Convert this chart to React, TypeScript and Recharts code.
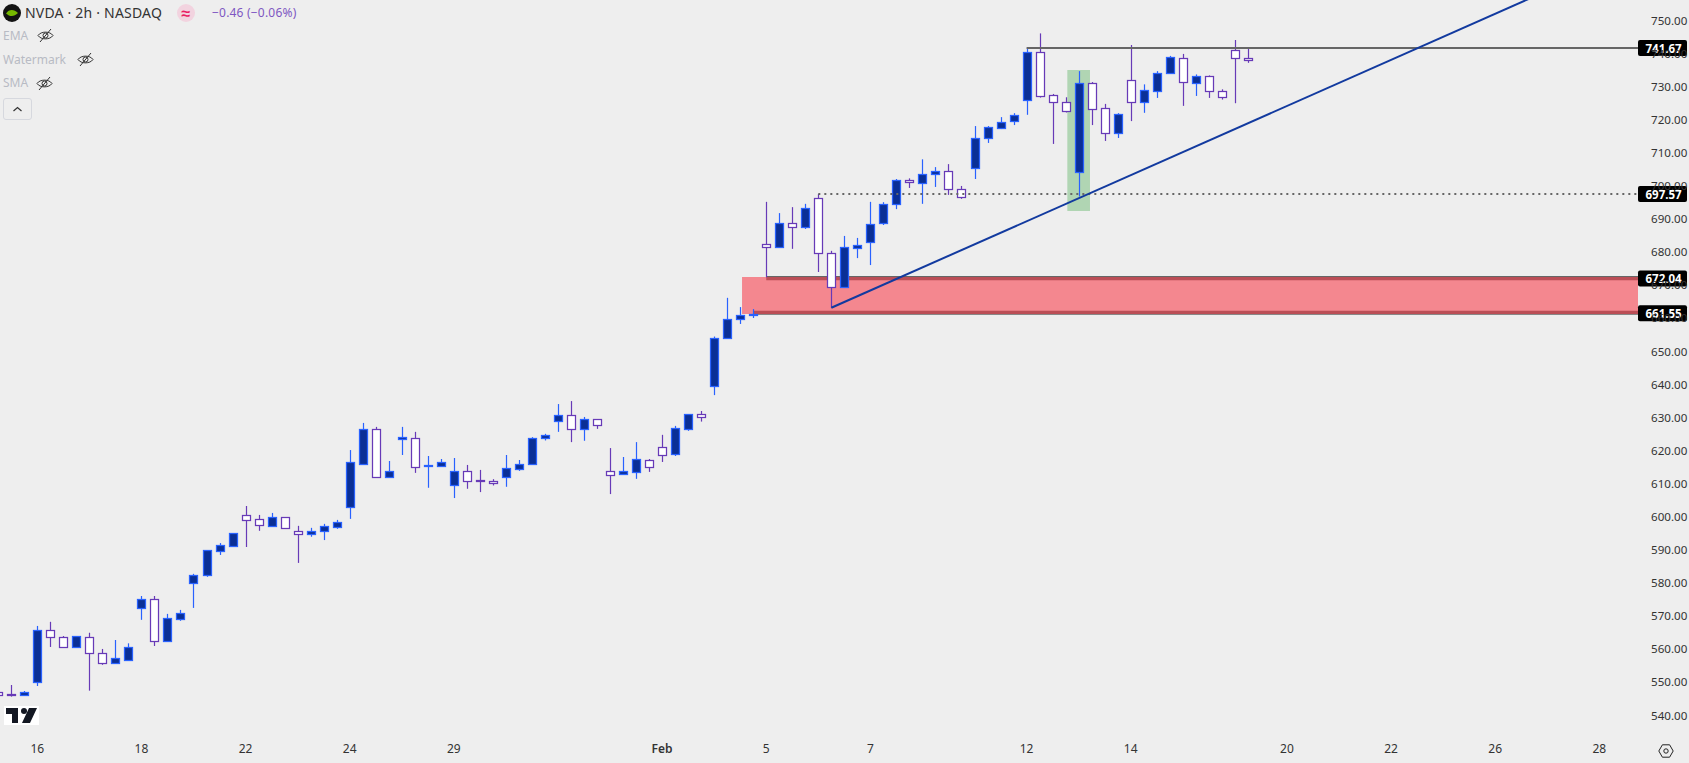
import { Bar, ComposedChart, ReferenceArea, ReferenceLine, XAxis, YAxis } from 'recharts';

const WIDTH = 1689;
const HEIGHT = 763;
const FONT = '"Noto Sans", sans-serif';

const FIRST_INDEX = -3;

// 2h candles, first one is cut off by the left edge
const opens = [
  547.0, 546.5, 546.3, 550.2, 565.8, 563.6, 560.8, 563.6, 558.8, 556.0, 556.9, 572.6, 575.1, 562.6, 569.3, 579.9,
  582.3, 589.8, 591.3, 600.5, 599.3, 597.4, 599.9, 595.7, 594.7, 595.6, 597.1, 603.1, 616.1, 626.5, 612.2, 623.4,
  623.8, 615.5, 615.5, 609.5, 613.8, 611.1, 610.7, 612.2, 614.6, 616.1, 623.7, 629.1, 630.7, 626.7, 629.5, 613.8,
  613.1, 613.7, 617.1, 621.0, 619.1, 626.7, 631.0, 639.7, 654.0, 659.7, 660.9, 682.4, 681.5, 688.7, 687.7, 696.3,
  679.6, 669.6, 681.4, 683.2, 688.7, 694.5, 701.7, 700.8, 703.5, 704.4, 699.0, 705.3, 714.4, 717.5, 719.5, 725.9,
  740.4, 727.4, 725.3, 704.3, 731.0, 723.5, 716.1, 731.9, 725.3, 728.8, 734.0, 738.6, 731.0, 733.1, 728.6, 741.0,
  738.6,
];
const highs = [
  547.0, 549.2, 547.4, 567.05, 568.3, 564.0, 564.0, 565.0, 560.1, 562.8, 561.8, 576.1, 576.1, 570.7, 571.9, 582.8,
  589.9, 592.1, 595.1, 603.3, 600.6, 601.2, 599.9, 597.3, 596.7, 597.9, 599.1, 620.2, 628.4, 627.2, 616.9, 627.2,
  625.7, 618.4, 617.5, 617.8, 615.7, 614.2, 611.4, 618.7, 617.2, 624.1, 625.1, 634.1, 635.0, 630.2, 629.5, 620.8,
  618.1, 622.6, 617.5, 624.8, 627.5, 631.0, 632.0, 654.5, 666.2, 663.4, 662.8, 695.2, 691.8, 693.6, 694.6, 697.6,
  680.4, 684.9, 684.3, 695.2, 695.1, 702.1, 702.3, 708.05, 705.7, 706.6, 700.0, 718.1, 718.1, 720.8, 722.0, 741.7,
  746.1, 727.8, 726.8, 734.7, 731.4, 724.8, 722.0, 742.6, 730.7, 734.7, 739.3, 739.9, 733.7, 733.4, 729.2, 744.1,
  741.4,
];
const lows = [
  546.3, 545.7, 546.0, 548.9, 560.7, 560.4, 560.4, 547.5, 555.3, 555.6, 556.9, 568.9, 561.0, 562.6, 568.6, 572.5,
  581.9, 588.5, 590.9, 590.9, 595.8, 597.4, 596.5, 586.1, 594.0, 593.0, 596.4, 599.4, 616.1, 612.2, 611.8, 618.7,
  613.3, 608.8, 615.1, 605.7, 608.5, 607.5, 609.5, 609.1, 613.9, 616.1, 623.1, 625.7, 622.6, 623.0, 626.6, 606.9,
  612.7, 611.5, 613.6, 616.6, 618.4, 626.0, 628.8, 636.8, 654.0, 658.3, 660.1, 672.4, 681.5, 681.0, 687.0, 674.0,
  663.2, 669.6, 678.2, 676.1, 688.2, 693.0, 699.4, 694.6, 699.7, 697.3, 696.1, 702.1, 713.0, 717.2, 718.4, 721.5,
  726.7, 712.7, 722.2, 696.8, 718.4, 713.6, 714.5, 719.6, 722.1, 726.6, 734.0, 724.2, 727.2, 726.6, 726.1, 725.0,
  737.2,
];
const closes = [
  546.3, 546.4, 547.0, 565.8, 563.6, 560.8, 563.9, 558.8, 556.0, 557.3, 560.6, 575.1, 562.6, 569.4, 570.9, 582.4,
  589.9, 591.4, 595.1, 599.2, 597.7, 599.9, 596.5, 594.7, 595.7, 597.2, 598.4, 616.5, 626.5, 612.2, 613.8, 624.1,
  615.2, 615.6, 616.5, 613.8, 611.0, 610.8, 610.1, 614.7, 615.9, 623.8, 624.7, 630.7, 626.7, 629.5, 627.9, 612.8,
  613.8, 617.4, 615.2, 618.8, 626.8, 631.0, 630.3, 654.0, 659.7, 660.9, 661.4, 681.5, 688.7, 687.5, 693.2, 679.6,
  669.6, 681.5, 682.1, 688.4, 694.5, 701.7, 701.1, 703.5, 704.4, 699.0, 696.6, 714.4, 717.7, 719.2, 721.3, 740.4,
  727.1, 725.3, 722.6, 731.0, 723.2, 716.1, 721.7, 725.3, 728.9, 734.0, 738.9, 731.3, 733.1, 728.6, 726.8, 738.6,
  738.0,
];

const priceTicks = [540, 550, 560, 570, 580, 590, 600, 610, 620, 630, 640, 650, 660, 670, 680, 690, 700, 710, 720, 730, 740, 750];
const timeTicks = [0, 8, 16, 24, 32, 48, 56, 64, 76, 84, 96, 104, 112, 120];
const timeLabels = ['16', '18', '22', '24', '29', 'Feb', '5', '7', '12', '14', '20', '22', '26', '28'];

const X_DOMAIN: [number, number] = [-2.865, 122.97];
const Y_DOMAIN: [number, number] = [534.1, 756.19];

const resistance = 741.67;
const swingLevel = 697.57;
const zoneTop = 672.04;
const zoneBottom = 661.55;
const trendStart = { x: 61, y: 663.2 };
const trendEnd = { x: 116, y: 759 };

const candles = opens.map((open, i) => ({
  idx: FIRST_INDEX + i,
  open,
  high: highs[i],
  low: lows[i],
  close: closes[i],
}));

const Candle = (props: any) => {
  const { x, y, width, height, payload } = props;
  const { open, high, low, close } = payload;
  const perUnit = height / (high - low || 1);
  const cx = Math.round(x + width / 2) + 0.5;
  const up = close >= open;
  const stroke = up ? '#2962ff' : '#673ab7';
  const fill = up ? '#0a2f96' : '#ffffff';
  const top = Math.round(y + (high - Math.max(open, close)) * perUnit) + 0.5;
  const bottom = Math.round(y + (high - Math.min(open, close)) * perUnit) + 0.5;
  return (
    <g>
      <line x1={cx} x2={cx} y1={y} y2={y + height} stroke={stroke} strokeWidth={1.2} />
      <rect x={cx - 4} y={top} width={8} height={Math.max(bottom - top, 1)} fill={fill} stroke={stroke} strokeWidth={1.25} />
    </g>
  );
};

const priceTag = (text: string) => (props: any) => {
  const { viewBox } = props;
  const right = viewBox.x + viewBox.width;
  return (
    <g>
      <rect x={right} y={viewBox.y - 8} width={49} height={16} rx={2} fill="#000000" />
      <text x={right + 7.5} y={viewBox.y + 4.5} fill="#ffffff" fontSize={11.5} fontWeight={700} fontFamily={FONT}>
        {text}
      </text>
    </g>
  );
};

const TimeTick = (props: any) => {
  const { x, y, payload } = props;
  const label = timeLabels[timeTicks.indexOf(payload.value)];
  return (
    <text x={x} y={y + 10} textAnchor="middle" fill="#333333" fontSize={12} fontFamily={FONT} fontWeight={label === 'Feb' ? 600 : 400}>
      {label}
    </text>
  );
};

const EyeOff = ({ left, top }: { left: number; top: number }) => (
  <svg width={17} height={15} viewBox="0 0 17 15" style={{ position: 'absolute', left, top }}>
    <path d="M1 7.5C4 3 13 3 16 7.5C13 12 4 12 1 7.5Z" fill="none" stroke="#333" strokeWidth={1} />
    <circle cx={8.5} cy={7.5} r={2.5} fill="none" stroke="#333" strokeWidth={1} />
    <line x1={3} y1={14} x2={14} y2={1} stroke="#333" strokeWidth={1} />
  </svg>
);

const Legend = () => {
  const label = (text: string, top: number) => (
    <div style={{ position: 'absolute', left: 3, top, fontSize: 12, lineHeight: '16px', color: '#b8bbc4' }}>{text}</div>
  );
  return (
    <div style={{ position: 'absolute', left: 0, top: 0, fontFamily: FONT }}>
      <svg width={18} height={18} viewBox="0 0 18 18" style={{ position: 'absolute', left: 3, top: 4 }}>
        <circle cx={9} cy={9} r={9} fill="#131313" />
        <path d="M3 9.5C6 5 11 5 15 9C11 13 7 13 3 9.5Z" fill="#76b900" />
      </svg>
      <div style={{ position: 'absolute', left: 25, top: 3, fontSize: 14, lineHeight: '20px', letterSpacing: 0.2, color: '#333', whiteSpace: 'nowrap' }}>
        NVDA · 2h · NASDAQ
      </div>
      <div style={{ position: 'absolute', left: 177, top: 4, width: 18, height: 18, borderRadius: 9, background: '#f2d3df', color: '#e91e63', fontSize: 16, lineHeight: '18px', textAlign: 'center', fontWeight: 700 }}>
        ≈
      </div>
      <div style={{ position: 'absolute', left: 212, top: 4, fontSize: 12, lineHeight: '17px', letterSpacing: 0.2, color: '#7e57c2', whiteSpace: 'nowrap' }}>
        −0.46 (−0.06%)
      </div>
      {label('EMA', 28)}
      <EyeOff left={37} top={28} />
      {label('Watermark', 52)}
      <EyeOff left={77} top={52} />
      {label('SMA', 75)}
      <EyeOff left={36} top={76} />
      <div style={{ position: 'absolute', left: 3, top: 98, width: 27, height: 20, border: '1px solid #d6d8de', borderRadius: 3 }}>
        <svg width={27} height={20} viewBox="0 0 27 20">
          <path d="M9.5 12L13.5 8.5L17.5 12" fill="none" stroke="#333" strokeWidth={1.2} />
        </svg>
      </div>
    </div>
  );
};

const TvLogo = () => (
  <svg width={35} height={19} viewBox="0 0 35 19" style={{ position: 'absolute', left: 4, top: 706 }}>
    <rect x={0} y={0} width={35} height={19} fill="#ffffff" />
    <path d="M2 2H14V17H8V8H2Z" fill="#131722" />
    <circle cx={20} cy={5} r={3} fill="#131722" />
    <path d="M25 2H33L26 17H18Z" fill="#131722" />
  </svg>
);

const SettingsIcon = () => (
  <svg width={16} height={14} viewBox="0 0 16 14" style={{ position: 'absolute', left: 1658, top: 744 }}>
    <path d="M0.8 7L4.4 0.8H11.6L15.2 7L11.6 13.2H4.4Z" fill="none" stroke="#222" strokeWidth={1} />
    <circle cx={8} cy={7} r={2.2} fill="none" stroke="#222" strokeWidth={1} />
  </svg>
);

export default function App() {
  return (
    <div style={{ position: 'absolute', left: 0, top: 0, width: WIDTH, height: HEIGHT, background: '#eeeeee', overflow: 'hidden' }}>
      <ComposedChart width={WIDTH} height={HEIGHT} data={candles} margin={{ top: 0, right: 0, bottom: 0, left: 0 }}>
        <XAxis
          type="number"
          dataKey="idx"
          domain={X_DOMAIN}
          allowDataOverflow
          ticks={timeTicks}
          interval={0}
          height={28}
          axisLine={false}
          tickLine={false}
          tick={<TimeTick />}
        />
        <YAxis
          orientation="right"
          domain={Y_DOMAIN}
          allowDataOverflow
          ticks={priceTicks}
          interval={0}
          width={51}
          axisLine={false}
          tickLine={false}
          tickMargin={7}
          tickFormatter={(v: number) => v.toFixed(2)}
          tick={{ fontSize: 11.6, fill: '#333333', fontFamily: FONT }}
        />
        {/* grey level lines sit under the pink zone, so they are drawn as thin areas first */}
        <ReferenceArea x1={56} x2={X_DOMAIN[1]} y1={zoneTop - 0.5} y2={zoneTop + 0.75} fill="#666666" fillOpacity={1} stroke="none" ifOverflow="visible" />
        <ReferenceArea x1={55} x2={X_DOMAIN[1]} y1={zoneBottom - 0.45} y2={zoneBottom + 0.75} fill="#666666" fillOpacity={1} stroke="none" ifOverflow="visible" />
        <ReferenceArea x1={54.14} x2={X_DOMAIN[1]} y1={661.3} y2={672.5} fill="#f83c4a" fillOpacity={0.58} stroke="none" ifOverflow="visible" />
        <ReferenceArea x1={79.13} x2={80.87} y1={692.45} y2={735.05} fill="#b0d5b3" fillOpacity={1} stroke="none" ifOverflow="visible" />
        <Bar dataKey={(d: any) => [d.low, d.high]} barSize={9} shape={<Candle />} isAnimationActive={false} />
        <ReferenceLine
          segment={[{ x: 76, y: resistance }, { x: X_DOMAIN[1], y: resistance }]}
          stroke="#666666"
          strokeWidth={2}
          ifOverflow="visible"
          label={priceTag('741.67')}
        />
        <ReferenceLine
          segment={[{ x: 60, y: swingLevel }, { x: X_DOMAIN[1], y: swingLevel }]}
          stroke="#666666"
          strokeWidth={2}
          strokeDasharray="2 4"
          ifOverflow="visible"
          label={priceTag('697.57')}
        />
        <ReferenceLine
          segment={[{ x: 56, y: zoneTop }, { x: X_DOMAIN[1], y: zoneTop }]}
          stroke="none"
          ifOverflow="visible"
          label={priceTag('672.04')}
        />
        <ReferenceLine
          segment={[{ x: 55, y: zoneBottom }, { x: X_DOMAIN[1], y: zoneBottom }]}
          stroke="none"
          ifOverflow="visible"
          label={priceTag('661.55')}
        />
        <ReferenceLine segment={[trendStart, trendEnd]} stroke="#123a9f" strokeWidth={2} ifOverflow="visible" />
      </ComposedChart>
      <Legend />
      <TvLogo />
      <SettingsIcon />
    </div>
  );
}
